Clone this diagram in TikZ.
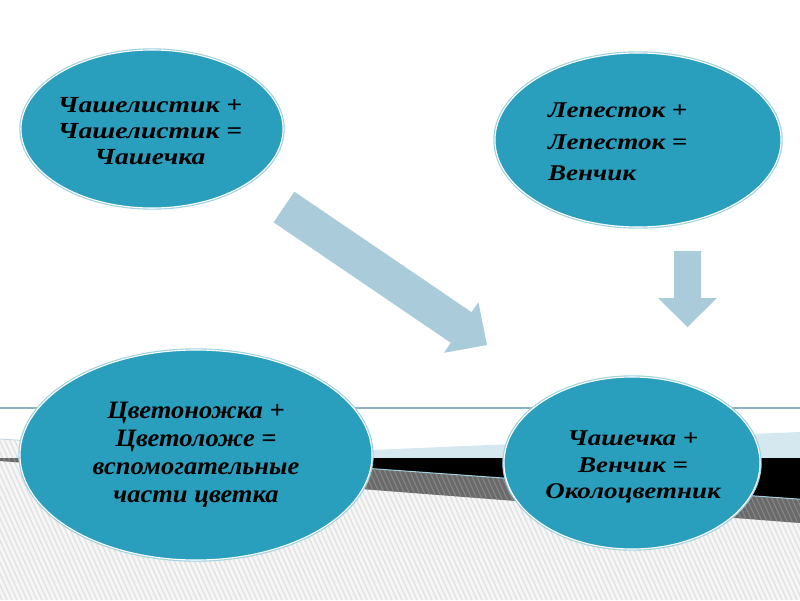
\documentclass[tikz,border=0pt]{standalone}
\usepackage{fontspec}
\setmainfont{Liberation Serif}
\newfontfamily\widefont{Liberation Serif}[FakeStretch=1.2]
\newfontfamily\midfont{Liberation Serif}[FakeStretch=1.06]
\usetikzlibrary{shapes.geometric}
\definecolor{teal1}{RGB}{42,159,189}
\definecolor{ringblue}{RGB}{160,210,226}
\definecolor{arrowblue}{RGB}{170,204,218}
\definecolor{bandblue}{RGB}{213,232,239}
\definecolor{hline}{RGB}{141,177,194}
\definecolor{hatchbase}{RGB}{246,246,246}
\definecolor{hatchline}{RGB}{226,226,226}
\definecolor{graybase}{RGB}{106,106,106}
\definecolor{grayline}{RGB}{134,134,134}
\tikzset{
  bubble/.style={ellipse, inner sep=0pt, fill=teal1, draw=white, line width=1.1pt,
    preaction={draw=ringblue, line width=3.4pt}},
  bubbletext/.style={inner sep=0pt, text=black},
  blockarrow/.style={fill=arrowblue, draw=none}
}
\begin{document}
\begin{tikzpicture}[x=1pt,y=-1pt]
\useasboundingbox (0,0) rectangle (800,600);
\fill[white] (0,0) rectangle (800,600);
% hatched lower area
\begin{scope}
  \clip (0,439) -- (300,458) -- (800,458) -- (800,600) -- (0,600) -- cycle;
  \fill[hatchbase] (0,430) rectangle (800,600);
  \foreach \i in {-100,...,165} {
    \draw[hatchline, line width=1.4pt] (\i*5,430) -- (\i*5+77,600);
  }
\end{scope}
\draw[color={rgb,255:red,197;green,213;blue,221}, line width=0.8pt] (0,439) -- (300,458);
% horizontal line
\draw[hline, line width=1.3pt] (0,408) -- (800,408);
% bands
\fill[bandblue] (180,458) -- (800,432) -- (800,458) -- cycle;
\begin{scope}
  \clip (0,458) -- (800,458) -- (800,523) -- (0,461) -- cycle;
  \fill[graybase] (0,450) rectangle (800,530);
  \foreach \i in {-20,...,165} {
    \draw[grayline, line width=1.1pt] (\i*5,450) -- (\i*5+36,530);
  }
\end{scope}
\fill[black] (223,458) -- (800,458) -- (800,499) -- cycle;
\draw[ringblue, line width=1pt] (223,458) -- (800,499.2);
% ellipses
\node[bubble, minimum width=262pt, minimum height=158pt] (e1) at (152,129) {};
\node[bubble, minimum width=286pt, minimum height=174pt] (e2) at (638,140) {};
\node[bubble, minimum width=352pt, minimum height=210pt] (e3) at (196,455) {};
\node[bubble, minimum width=256pt, minimum height=172pt] (e4) at (632,463) {};
% texts
\node[bubbletext, align=center, font=\widefont\fontsize{23}{26}\selectfont\bfseries\itshape] (t1) at (150,131) {Чашелистик +\\Чашелистик =\\Чашечка};
\node[bubbletext, align=left, anchor=west, font=\widefont\fontsize{22.5}{31.5}\selectfont\bfseries\itshape] (t2) at (548,142) {Лепесток +\\Лепесток =\\Венчик};
\node[bubbletext, align=center, font=\midfont\fontsize{25}{28}\selectfont\bfseries\itshape] (t3) at (196,455) {Цветоножка +\\Цветоложе =\\вспомогательные\\части цветка};
\node[bubbletext, align=center, font=\widefont\fontsize{22.5}{26.5}\selectfont\bfseries\itshape] (t4) at (633,467) {Чашечка +\\Венчик =\\Околоцветник};
% block arrows
\fill[blockarrow] (273.6,222.3) -- (294.4,191.7) -- (471.6,312.2) -- (478.4,302.2) -- (487,345) -- (444.0,352.8) -- (450.8,342.8) -- cycle;
\fill[blockarrow] (674,251) -- (701,251) -- (701,298) -- (717,298) -- (687.5,327) -- (658,298) -- (674,298) -- cycle;
\end{tikzpicture}
\end{document}
